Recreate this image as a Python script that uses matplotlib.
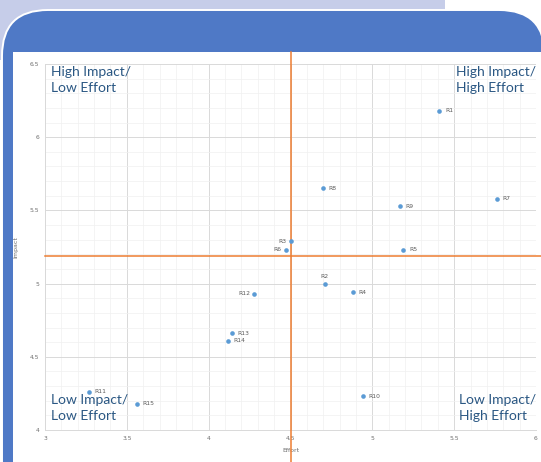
import matplotlib
matplotlib.use("Agg")
import matplotlib.pyplot as plt
from matplotlib.patches import FancyBboxPatch, Rectangle
from matplotlib.ticker import MultipleLocator

# requisitos: esforco x impacto
labels = ['R1', 'R2', 'R3', 'R4', 'R5', 'R6', 'R7', 'R8', 'R9', 'R10',
          'R11', 'R12', 'R13', 'R14', 'R15']
effort = [5.41, 4.71, 4.50, 4.88, 5.19, 4.47, 5.76, 4.70, 5.17, 4.94,
          3.27, 4.28, 4.14, 4.12, 3.56]
impact = [6.18, 5.00, 5.29, 4.94, 5.23, 5.23, 5.58, 5.65, 5.53, 4.23,
          4.26, 4.93, 4.66, 4.61, 4.18]

effort_cut = 4.5
impact_cut = 5.19

quadrants = [
    ('High Impact/\nLow Effort', 51, 66),
    ('High Impact/\nHigh Effort', 456, 66),
    ('Low Impact/\nLow Effort', 51, 394),
    ('Low Impact/\nHigh Effort', 459, 394),
]

W, H = 541, 462
fig = plt.figure(figsize=(W / 100, H / 100), dpi=100)

# fundo (moldura azul arredondada)
fig.patches.append(Rectangle((0, 0), 1, 1, transform=fig.transFigure,
                             facecolor='white', edgecolor='none', zorder=0))
fig.patches.append(Rectangle((0, 1 - 60 / H), 445 / W, 60 / H, transform=fig.transFigure,
                             facecolor='#c6cde9', edgecolor='none', zorder=0))
fig.patches.append(FancyBboxPatch((2 / W, -0.2), (W - 2 + 4) / W, 1.2 - 10 / H,
                                  boxstyle='round,pad=0,rounding_size=0.085',
                                  mutation_aspect=W / H,
                                  transform=fig.transFigure, facecolor='#4f79c6',
                                  edgecolor='white', linewidth=1.4, zorder=1))
fig.patches.append(Rectangle((13 / W, 0), (W - 13) / W, 1 - 52 / H, transform=fig.transFigure,
                             facecolor='white', edgecolor='none', zorder=2))

ax = fig.add_axes([45 / W, (H - 430) / H, (536 - 45) / W, (430 - 64) / H])
ax.set_zorder(3)
ax.set_facecolor('none')
ax.set_xlim(3, 6)
ax.set_ylim(4, 6.5)
ax.xaxis.set_major_locator(MultipleLocator(0.5))
ax.yaxis.set_major_locator(MultipleLocator(0.5))
ax.xaxis.set_minor_locator(MultipleLocator(0.1))
ax.yaxis.set_minor_locator(MultipleLocator(0.1))
ax.grid(which='major', color='#d9d9d9', linewidth=0.7)
ax.grid(which='minor', color='#f0f0f0', linewidth=0.5)
ax.set_axisbelow(True)
ax.xaxis.set_major_formatter(lambda v, p: f'{v:g}')
ax.yaxis.set_major_formatter(lambda v, p: f'{v:g}')
ax.tick_params(which='both', length=0, labelsize=4.3, labelcolor='#6e6e6e', pad=4)
for s in ['top', 'right']:
    ax.spines[s].set_visible(False)
ax.spines['left'].set_color('#d9d9d9')
ax.spines['bottom'].set_color('#d9d9d9')
ax.spines['left'].set_linewidth(0.7)
ax.spines['bottom'].set_linewidth(0.7)

ax.set_xlabel('Effort', fontsize=4.5, color='#6e6e6e', labelpad=5)
ax.set_ylabel('Impact', fontsize=4.5, color='#6e6e6e', labelpad=8)

# linhas de corte (passam das bordas do grafico)
ax.plot([effort_cut, effort_cut], [3.78, 6.58], color='#ed7d31', linewidth=1.1,
        clip_on=False, zorder=3)
ax.plot([3, 6.03], [impact_cut, impact_cut], color='#ed7d31', linewidth=1.1,
        clip_on=False, zorder=3)

ax.scatter(effort, impact, s=11, color='#5b9bd5', zorder=4, linewidths=0)

for lab, x, y in zip(labels, effort, impact):
    if lab in ('R3', 'R6', 'R12'):
        ax.annotate(lab, (x, y), xytext=(-3, 0), textcoords='offset points',
                    ha='right', va='center', fontsize=4.3, color='#595959')
    elif lab == 'R2':
        ax.annotate(lab, (x, y), xytext=(0, 3), textcoords='offset points',
                    ha='center', va='bottom', fontsize=4.3, color='#595959')
    else:
        ax.annotate(lab, (x, y), xytext=(4, 0), textcoords='offset points',
                    ha='left', va='center', fontsize=4.3, color='#595959')

for txt, px, py in quadrants:
    fig.text(px / W, 1 - py / H, txt, ha='left', va='top', fontsize=10,
             family='Lato', color='#2a5783', linespacing=1.45, zorder=5)

plt.savefig('out.png', dpi=100)
print('Saved out.png')
